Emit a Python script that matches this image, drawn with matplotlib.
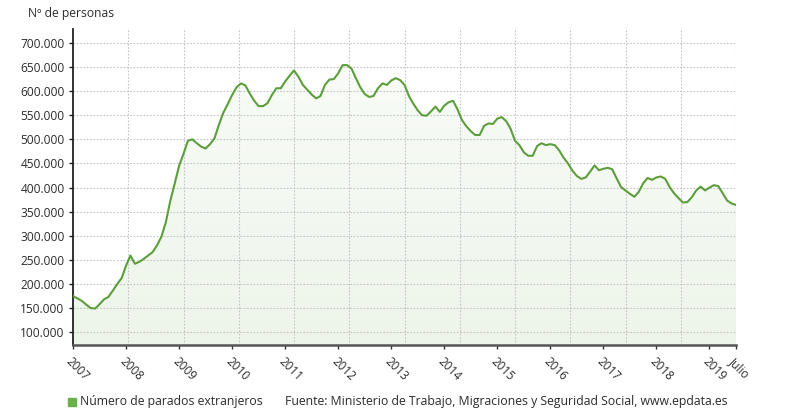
import matplotlib
matplotlib.use("Agg")
import matplotlib.pyplot as plt
import numpy as np
from matplotlib.colors import LinearSegmentedColormap
from matplotlib.ticker import FuncFormatter

plt.rcParams['font.family'] = ['Open Sans', 'DejaVu Sans']

# Monthly data Jan 2007 - Jul 2019 (thousands of people)
values_k = [
    175, 170, 165, 157, 150, 149, 158, 168, 173, 186, 200, 212,   # 2007
    238, 259, 242, 246, 252, 259, 266, 280, 298, 328, 372, 408,   # 2008
    445, 470, 497, 500, 492, 485, 481, 490, 502, 530, 555, 573,   # 2009
    592, 608, 616, 612, 595, 580, 569, 569, 575, 592, 606, 606,   # 2010
    620, 632, 643, 630, 613, 603, 593, 585, 590, 613, 624, 625,   # 2011
    637, 654, 654, 647, 627, 608, 594, 588, 590, 606, 616, 613,   # 2012
    622, 627, 623, 613, 590, 574, 560, 550, 549, 558, 568, 557,   # 2013
    570, 577, 580, 562, 540, 527, 517, 509, 509, 528, 533, 532,   # 2014
    543, 546, 538, 522, 497, 488, 473, 466, 466, 486, 492, 488,   # 2015
    490, 488, 477, 462, 450, 435, 424, 418, 421, 433, 446, 436,   # 2016
    439, 441, 438, 419, 401, 394, 387, 381, 391, 409, 420, 416,   # 2017
    421, 423, 418, 401, 388, 378, 369, 370, 380, 394, 402, 394,   # 2018
    400, 405, 403, 388, 373, 367, 364,                            # 2019
]
values = np.array(values_k) * 1000.0
months = np.arange(len(values))

year_labels = ['2007', '2008', '2009', '2010', '2011', '2012', '2013',
               '2014', '2015', '2016', '2017', '2018', '2019', 'Julio']
y_ticks = [100000, 150000, 200000, 250000, 300000, 350000, 400000,
           450000, 500000, 550000, 600000, 650000, 700000]

series_name = 'Número de parados extranjeros'
source_text = 'Fuente: Ministerio de Trabajo, Migraciones y Seguridad Social, www.epdata.es'
y_title = 'Nº de personas'

line_color = '#5c9e3c'
text_color = '#2b2b2b'

fig = plt.figure(figsize=(7.9, 4.2), dpi=100)
ax = fig.add_axes([73/790, 1 - 345/420, (736-73)/790, (345-28)/420])

ymin, ymax = 73400, 731000
xmax = months[-1]
ax.set_xlim(0, xmax)
ax.set_ylim(ymin, ymax)

# gradient fill under the line
grad = LinearSegmentedColormap.from_list('g', ['#edf5e9', '#fafcf9'])
poly = ax.fill_between(months, values, ymin, color='none', lw=0)
img = ax.imshow(np.linspace(0, 1, 256).reshape(-1, 1), cmap=grad, aspect='auto',
                extent=[0, xmax, ymin, ymax], origin='lower', zorder=1)
path = poly.get_paths()[0]
img.set_clip_path(path, transform=ax.transData)

ax.plot(months, values, color=line_color, lw=1.5, zorder=3,
        solid_joinstyle='round')

# grid
for yt in y_ticks:
    ax.axhline(yt, color='#c4c4c4', lw=0.8, ls=(0, (1.5, 1.5)), zorder=2)
for i in range(1, 13):
    ax.axvline(i * xmax / 12, color='#c4c4c4', lw=0.8, ls=(0, (1.5, 1.5)), zorder=2)

# ticks
xt = [12 * i for i in range(13)] + [xmax]
ax.set_xticks(xt)
ax.set_xticklabels(year_labels, rotation=-45, ha='left', va='top',
                   rotation_mode='anchor', fontsize=8.5, color=text_color)
ax.set_yticks(y_ticks)
ax.yaxis.set_major_formatter(FuncFormatter(lambda v, p: f'{int(v):,}'.replace(',', '.')))
ax.tick_params(axis='y', labelsize=8.6, labelcolor=text_color, length=3,
               width=1, color='#222222', pad=3)
ax.tick_params(axis='x', length=3, width=1, color='#333333', pad=4)

for s in ['top', 'right']:
    ax.spines[s].set_visible(False)
ax.spines['left'].set_color('#222222')
ax.spines['left'].set_linewidth(1.3)
ax.spines['left'].set_linestyle((0, (1, 1)))
ax.spines['bottom'].set_color('#555555')
ax.spines['bottom'].set_linewidth(1.8)

fig.text(28/790, 1 - 14/420, y_title, fontsize=8.7, color=text_color,
         ha='left', va='center')

# legend / source
fig.patches.append(plt.Rectangle((68/790, 1 - 406/420), 8/790, 8/420,
                                 transform=fig.transFigure, color='#6ab04c',
                                 figure=fig))
fig.text(80/790, 1 - 402/420, series_name, fontsize=8.8, color=text_color,
         ha='left', va='center')
fig.text(285/790, 1 - 402/420, source_text, fontsize=8.85, color=text_color,
         ha='left', va='center')

fig.savefig('out.png', dpi=100, facecolor='white')
